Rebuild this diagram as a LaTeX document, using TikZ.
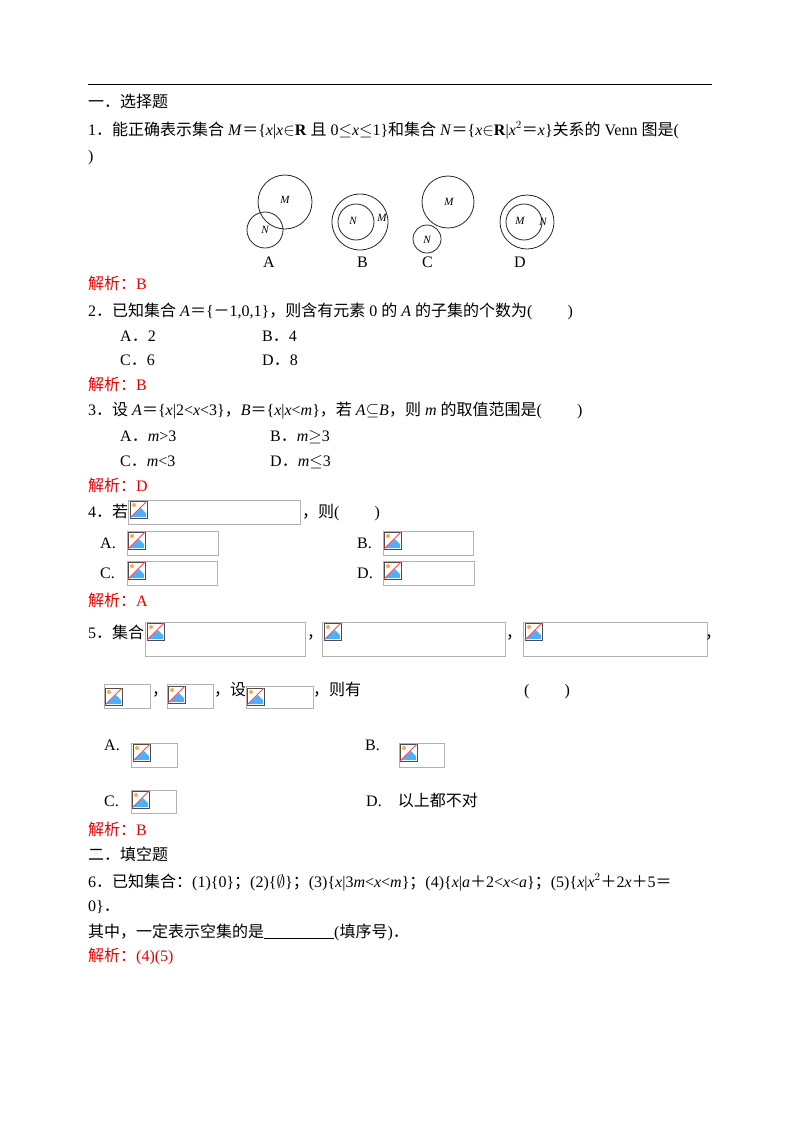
\documentclass[tikz,border=0pt]{standalone}
\usepackage{fontspec}
\setmainfont{Liberation Serif}
\newfontfamily\cjk{Noto Sans CJK SC}
\newcommand\zh[1]{{\cjk #1}}
\newcommand\vi[1]{\textit{#1}}
\tikzset{
 txt/.style={anchor=base west,inner sep=0pt,font=\fontsize{16}{18}\selectfont},
 ans/.style={txt,text={rgb,255:red,230;green,0;blue,0}},
 imgbox/.style={draw=black!30,line width=0.7pt},
 venn/.style={draw=black!85,line width=0.8pt},
 vl/.style={inner sep=0pt,font=\fontsize{11}{12}\selectfont\itshape},
 pics/bimg/.style={code={
   \fill[white] (0,0) rectangle (17,17);
   \draw[black!70,line width=0.8pt] (0,0) rectangle (17,17);
   \fill[blue!45!cyan!70] (1,16) -- (11,7) -- (16,12) -- (16,16) -- cycle;
   \fill[orange!70] (4,4) circle (2);
   \draw[red!70,line width=0.8pt] (0,17) -- (17,0);
 }}
}
\begin{document}
\begin{tikzpicture}[x=1pt,y=-1pt]
\useasboundingbox (0,0) rectangle (800,1130);
\draw[line width=0.8pt] (88,84) -- (712,84);
\node[txt] (h1) at (88,107) {\zh{一．选择题}};
\node[txt] (q1) at (88,135) {1\zh{．能正确表示集合} \vi{M}\zh{＝}\{\vi{x}|\vi{x}$\in$\textbf{R} \zh{且} 0$\leq$\vi{x}$\leq$1\}\zh{和集合} \vi{N}\zh{＝}\{\vi{x}$\in$\textbf{R}|\vi{x}$^2$\zh{＝}\vi{x}\}\zh{关系的} Venn \zh{图是}(};
\node[txt] (q1b) at (88,161) {)};
% Venn
\draw[venn] (285,202) circle (27); \draw[venn] (265,230) circle (18);
\node[vl] (am) at (285,200) {M}; \node[vl] (an) at (265,230) {N};
\draw[venn] (360,222) circle (28); \draw[venn] (356,222) circle (18);
\node[vl] (bn) at (353,221) {N}; \node[vl] (bm) at (382,218) {M};
\draw[venn] (448,202) circle (26); \draw[venn] (427,239) circle (14);
\node[vl] (cm) at (449,202) {M}; \node[vl] (cn) at (427,240) {N};
\draw[venn] (527,222) circle (27); \draw[venn] (524,222) circle (18);
\node[vl] (dm) at (520,221) {M}; \node[vl] (dn) at (543,222) {N};
\node[txt] (la) at (263,267) {A}; \node[txt] (lb) at (357,267) {B};
\node[txt] (lc) at (422,267) {C}; \node[txt] (ld) at (514,267) {D};
\node[ans] (a1) at (88,289) {\zh{解析：}B};
\node[txt] (q2) at (88,316) {2\zh{．已知集合} \vi{A}\zh{＝}\{\zh{－}1,0,1\}\zh{，则含有元素} 0 \zh{的} \vi{A} \zh{的子集的个数为}(\hspace{2.2em})};
\node[txt] (q2a) at (120,341) {A\zh{．}2}; \node[txt] (q2b) at (262,341) {B\zh{．}4};
\node[txt] (q2c) at (120,365) {C\zh{．}6}; \node[txt] (q2d) at (262,365) {D\zh{．}8};
\node[ans] (a2) at (88,390) {\zh{解析：}B};
\node[txt] (q3) at (88,415) {3\zh{．设} \vi{A}\zh{＝}\{\vi{x}|2<\vi{x}<3\}\zh{，}\vi{B}\zh{＝}\{\vi{x}|\vi{x}<\vi{m}\}\zh{，若} \vi{A}$\subseteq$\vi{B}\zh{，则} \vi{m} \zh{的取值范围是}(\hspace{2.2em})};
\node[txt] (q3a) at (120,441) {A\zh{．}\vi{m}>3}; \node[txt] (q3b) at (270,441) {B\zh{．}\vi{m}$\geq$3};
\node[txt] (q3c) at (120,466) {C\zh{．}\vi{m}<3}; \node[txt] (q3d) at (270,466) {D\zh{．}\vi{m}$\leq$3};
\node[ans] (a3) at (88,491) {\zh{解析：}D};
% Q4
\node[txt] (q4) at (88,517) {4\zh{．若}};
\draw[imgbox] (128,500) rectangle (300,524); \pic at (130,501) {bimg};
\node[txt] (q4b) at (302,517) {\zh{，则}(\hspace{2.2em})};
\node[txt] (q4a) at (100,548) {A.}; \draw[imgbox] (127,531) rectangle (218,555); \pic at (128,532) {bimg};
\node[txt] (q4bb) at (357,548) {B.}; \draw[imgbox] (383,531) rectangle (473,555); \pic at (384,532) {bimg};
\node[txt] (q4c) at (100,578) {C.}; \draw[imgbox] (127,561) rectangle (217,585); \pic at (128,562) {bimg};
\node[txt] (q4d) at (357,578) {D.}; \draw[imgbox] (383,561) rectangle (474,585); \pic at (384,562) {bimg};
\node[ans] (a4) at (88,606) {\zh{解析：}A};
% Q5
\node[txt] (q5) at (88,638) {5\zh{．集合}};
\draw[imgbox] (145,622) rectangle (305,656); \pic at (147,623) {bimg};
\node[txt] (c1) at (307,638) {\zh{，}};
\draw[imgbox] (322,622) rectangle (505,656); \pic at (324,623) {bimg};
\node[txt] (c2) at (506,638) {\zh{，}};
\draw[imgbox] (523,622) rectangle (707,656); \pic at (525,623) {bimg};
\node[txt] (c3) at (705,638) {\zh{，}};
\draw[imgbox] (104,684) rectangle (150,708); \pic at (105,688) {bimg};
\node[txt] (c4) at (152,695) {\zh{，}};
\draw[imgbox] (167,684) rectangle (213,708); \pic at (168,686) {bimg};
\node[txt] (c5) at (214,695) {\zh{，设}};
\draw[imgbox] (246,686) rectangle (313,708); \pic at (247,688) {bimg};
\node[txt] (c6) at (313,695) {\zh{，则有}};
\node[txt] (c7) at (524,695) {(\hspace{2.2em})};
\node[txt] (q5a) at (104,750) {A.}; \draw[imgbox] (131,743) rectangle (177,767); \pic at (133,744) {bimg};
\node[txt] (q5b) at (365,750) {B.}; \draw[imgbox] (399,743) rectangle (444,767); \pic at (400,744) {bimg};
\node[txt] (q5c) at (104,806) {C.}; \draw[imgbox] (131,790) rectangle (176,813); \pic at (132,791) {bimg};
\node[txt] (q5d) at (366,806) {D.\quad\zh{以上都不对}};
\node[ans] (a5) at (88,835) {\zh{解析：}B};
\node[txt] (h2) at (88,860) {\zh{二．填空题}};
\node[txt] (q6) at (88,887) {6\zh{．已知集合：}(1)\{0\}\zh{；}(2)\{$\emptyset$\}\zh{；}(3)\{\vi{x}|3\vi{m}<\vi{x}<\vi{m}\}\zh{；}(4)\{\vi{x}|\vi{a}\zh{＋}2<\vi{x}<\vi{a}\}\zh{；}(5)\{\vi{x}|\vi{x}$^2$\zh{＋}2\vi{x}\zh{＋}5\zh{＝}};
\node[txt] (q6b) at (88,911) {0\}\zh{．}};
\node[txt] (q6c) at (88,937) {\zh{其中，一定表示空集的是}\rule[-1pt]{70pt}{0.5pt}(\zh{填序号})\zh{．}};
\node[ans] (a6) at (88,961) {\zh{解析：}(4)(5)};
\end{tikzpicture}
\end{document}
